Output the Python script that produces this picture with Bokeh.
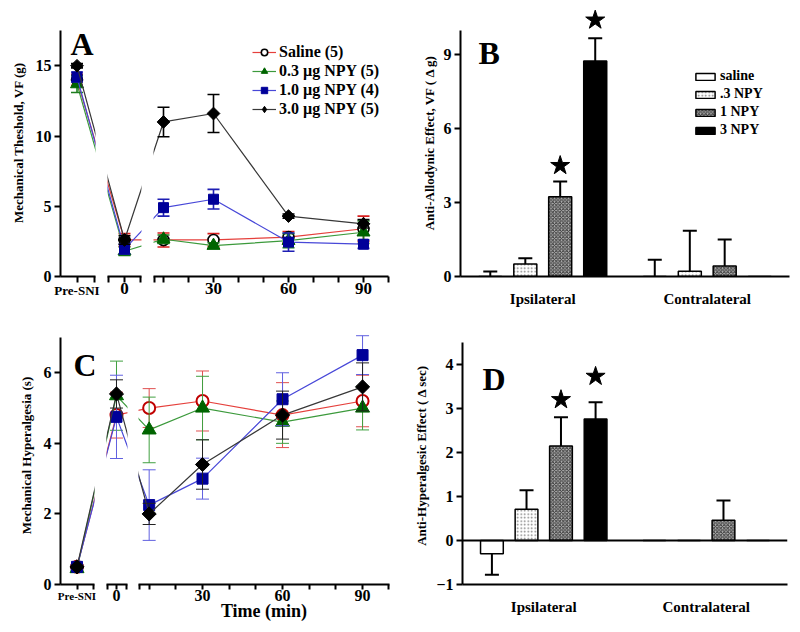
import numpy as np
from bokeh.plotting import figure
from bokeh.layouts import row, column
from bokeh.models import (ColumnDataSource, FixedTicker, Legend, LegendItem,
                          Label, Span, Range1d, FactorRange)
from bokeh.transform import dodge
from bokeh.embed import file_html
from bokeh.resources import INLINE

FONT = "Liberation Serif"

# ---------------- data ----------------
time_labels = ["Pre-SNI", "0", "10", "30", "60", "90"]
treatments = ["Saline (5)", "0.3 \u00b5g NPY (5)", "1.0 \u00b5g NPY (4)", "3.0 \u00b5g NPY (5)"]

# Panel A: mechanical threshold (g)
A_saline = [14.0, 2.6, 2.6, 2.6, 2.8, 3.4]
A_saline_err = [0.4, 0.45, 0.5, 0.45, 0.4, 0.9]
A_npy03 = [13.7, 1.8, 2.65, 2.2, 2.55, 3.15]
A_npy03_err = [0.6, 0.3, 0.3, 0.2, 0.5, 0.8]
A_npy10 = [14.2, 1.95, 4.9, 5.5, 2.45, 2.3]
A_npy10_err = [0.35, 0.35, 0.6, 0.7, 0.65, 0.3]
A_npy30 = [15.0, 2.6, 11.0, 11.6, 4.3, 3.75]
A_npy30_err = [0.15, 0.3, 1.05, 1.35, 0.15, 0.3]

# Panel C: mechanical hyperalgesia (s)
C_saline = [0.5, 4.8, 5.0, 5.2, 4.8, 5.2]
C_saline_err = [0.05, 0.65, 0.55, 0.85, 0.92, 0.73]
C_npy03 = [0.45, 5.35, 4.38, 5.0, 4.6, 5.0]
C_npy03_err = [0.05, 0.98, 0.93, 0.9, 0.6, 0.62]
C_npy10 = [0.5, 4.75, 2.25, 3.0, 5.25, 6.5]
C_npy10_err = [0.05, 1.18, 1.0, 0.58, 0.75, 0.55]
C_npy30 = [0.5, 5.4, 2.0, 3.4, 4.8, 5.6]
C_npy30_err = [0.05, 0.4, 0.3, 0.7, 0.68, 0.68]

# Panels B / D: bar charts
sides = ["Ipsilateral", "Contralateral"]
bar_names = ["saline", ".3 NPY", "1 NPY", "3 NPY"]
B_saline = [0.0, 0.0]
B_saline_err = [0.2, 0.68]
B_npy03 = [0.51, 0.21]
B_npy03_err = [0.23, 1.65]
B_npy1 = [3.24, 0.43]
B_npy1_err = [0.61, 1.07]
B_npy3 = [8.74, 0.0]
B_npy3_err = [0.93, 0.0]
B_star_bar = [2, 3]          # index of starred treatment (Ipsilateral)
B_star_y = [4.5, 10.4]

D_saline = [-0.3, 0.0]
D_saline_err = [0.48, 0.0]
D_npy03 = [0.71, 0.0]
D_npy03_err = [0.43, 0.0]
D_npy1 = [2.15, 0.46]
D_npy1_err = [0.65, 0.45]
D_npy3 = [2.76, 0.0]
D_npy3_err = [0.38, 0.0]
D_star_bar = [2, 3]
D_star_y = [3.2, 3.73]

# ---------------- layout / style constants ----------------
# axis positions of the time points on the broken axes
A_POS = [-24.6, -5.6, 10, 30, 60, 90]
C_POS = [-17.06, -2.25, 10, 30, 60, 90]

LINE_COLORS = ["#e5403c", "#3c9a3c", "#4848d8", "#383838"]
ERR_A = ["#d81e1e", "#1e7d1e", "#1e1eb4", "#000000"]
ERR_C = ["#e05050", "#40a040", "#6060e0", "#222222"]


def base_fig(xr, yr, fw, fh, bl, br, bt, bb, yaxis):
    p = figure(frame_width=fw, frame_height=fh, x_range=xr, y_range=yr,
               min_border_left=bl, min_border_right=br, min_border_top=bt,
               min_border_bottom=bb, toolbar_location=None, output_backend="svg",
               y_axis_location="left" if yaxis else None)
    p.outline_line_color = None
    p.grid.visible = False
    p.background_fill_color = "white"
    p.border_fill_color = "white"
    return p


def style_axis(ax, label_size):
    ax.axis_line_width = 2
    ax.axis_line_color = "black"
    ax.major_tick_line_width = 2
    ax.major_tick_line_color = "black"
    ax.minor_tick_line_width = 2
    ax.minor_tick_line_color = "black"
    ax.major_tick_in = 0
    ax.major_tick_out = 6
    ax.minor_tick_in = 0
    ax.minor_tick_out = 6
    ax.major_label_text_font = FONT
    ax.major_label_text_font_style = "bold"
    ax.major_label_text_font_size = label_size
    ax.major_label_text_color = "black"
    ax.axis_label_text_font = FONT
    ax.axis_label_text_font_style = "bold"
    ax.axis_label_text_color = "black"


def letter(p, x, y, txt):
    p.add_layout(Label(x=x, y=y, text=txt, text_font=FONT, text_font_style="bold",
                       text_font_size="32px", text_color="black",
                       text_baseline="alphabetic"))


def draw_series(p, pos, vals, errs, k, panel):
    lo = [v - e for v, e in zip(vals, errs)]
    hi = [v + e for v, e in zip(vals, errs)]
    src = ColumnDataSource(dict(x=pos, y=vals, lo=lo, hi=hi))
    errc = ERR_A[k] if panel == "A" else ERR_C[k]
    ew = 1.6 if panel == "A" else 1.0
    cap = 12 if panel == "A" else 13
    lr = p.line("x", "y", source=src, line_color=LINE_COLORS[k], line_width=1.2)
    p.segment("x", "lo", "x", "hi", source=src, line_color=errc, line_width=ew)
    p.scatter("x", "lo", source=src, marker="dash", size=cap, line_color=errc, line_width=ew)
    p.scatter("x", "hi", source=src, marker="dash", size=cap, line_color=errc, line_width=ew)
    big = 0 if panel == "A" else 1
    leg = None
    if k == 0:
        sr = p.scatter("x", "y", source=src, marker="circle", size=11 + big,
                       fill_color="white",
                       line_color="black" if panel == "A" else "#c00000",
                       line_width=1.6 if panel == "A" else 2.0)
    elif k == 1:
        sr = p.scatter("x", "y", source=src, marker="triangle", size=13 + big,
                       fill_color="#006400", line_color="#006400")
    elif k == 2:
        sr = p.scatter("x", "y", source=src, marker="square", size=10 + big,
                       fill_color="#000099", line_color="#000099")
    else:
        sr = p.scatter("x", "y", source=src, marker="square", angle=np.pi / 4,
                       size=9 + big, fill_color="black", line_color="black")
        # legend swatch (legend glyphs ignore the marker angle); off-plot dummy point
        leg = p.scatter(x=[float("nan")], y=[float("nan")], marker="diamond", size=17,
                        fill_color="black", line_color="black")
    return lr, (leg if leg is not None else sr)


def line_panel(pos, series, errs, segs, yr_end, ybounds, yticks, ylabel,
               bt, fh, panel, pre_size, tick_size, xlabel=None):
    figs = []
    handles = []
    for i, (xr, fw, bl, br, major, minor, labels) in enumerate(segs):
        p = base_fig(Range1d(*xr), Range1d(0, yr_end), fw, fh, bl, br, bt, 40, i == 0)
        hs = [draw_series(p, pos, series[k], errs[k], k, panel) for k in range(4)]
        if i == len(segs) - 1:
            handles = hs
        ax = p.xaxis[0]
        style_axis(ax, pre_size if i == 0 else tick_size)
        ax.ticker = FixedTicker(ticks=major, minor_ticks=minor)
        ax.major_label_overrides = {m: l for m, l in zip(major, labels)}
        ax.major_label_standoff = 0
        if panel == "C":
            ax.major_tick_out = 5
            ax.minor_tick_out = 5
        if i == 0:
            ay = p.yaxis[0]
            style_axis(ay, "16px")
            ay.ticker = FixedTicker(ticks=yticks)
            ay.bounds = ybounds
            ay.axis_label = ylabel
            ay.axis_label_text_font_size = "13px"
            ay.axis_label_standoff = 7
            ay.major_label_standoff = 3
        if xlabel and i == len(segs) - 1:
            ax.axis_label = xlabel
            ax.axis_label_text_font_size = "18px"
            ax.axis_label_standoff = -3
        figs.append(p)
    return figs, handles


# ---------------- Panel A ----------------
A_series = [A_saline, A_npy03, A_npy10, A_npy30]
A_errs = [A_saline_err, A_npy03_err, A_npy10_err, A_npy30_err]
A_segs = [
    ((-31.2, -17.2), 35, 60, 12, [A_POS[0]], [-17.8], [time_labels[0]]),
    ((-12.4, 1.2), 34, 0, 12, [A_POS[1]], [-12.2, 0.8], [time_labels[1]]),
    ((6.0, 100.0), 235, 0, 12, [30, 60, 90], [6.2, 10, 20, 40, 50, 70, 80, 99.8],
     ["30", "60", "90"]),
]
A_figs, A_handles = line_panel(A_POS, A_series, A_errs, A_segs, 268 / 14.05, (0, 17.5),
                               [0, 5, 10, 15], "Mechanical Theshold, VF (g)", 8, 268,
                               "A", "13px", "17px")
letter(A_figs[0], -27.2, 16.58, "A")
legA = Legend(items=[LegendItem(label=n, renderers=list(h))
                     for n, h in zip(treatments, A_handles)],
              location=(99, 158), padding=0, margin=0, spacing=1,
              glyph_width=24, glyph_height=16, label_height=16, label_standoff=3,
              border_line_color=None, background_fill_alpha=0,
              label_text_font=FONT, label_text_font_style="bold",
              label_text_font_size="16px", label_text_color="black")
A_figs[2].add_layout(legA)

# ---------------- Panel C ----------------
C_series = [C_saline, C_npy03, C_npy10, C_npy30]
C_errs = [C_saline_err, C_npy03_err, C_npy10_err, C_npy30_err]
C_segs = [
    ((-23.25, -10.5), 34, 60, 12, [C_POS[0]], [-10.87], [time_labels[0]]),
    ((-6.0, 1.88), 21, 0, 11, [C_POS[1]], [-5.8, 1.5], [time_labels[1]]),
    ((6.0, 100.1), 251, 0, 11, [30, 60, 90], [6.2, 10, 20, 40, 50, 70, 80, 99.8],
     ["30", "60", "90"]),
]
C_figs, _ = line_panel(C_POS, C_series, C_errs, C_segs, 258 / 35.29, (0, 7),
                       [0, 2, 4, 6], "Mechanical Hyperalgesia (s)", 10, 258,
                       "C", "11px", "16px", xlabel="Time (min)")
letter(C_figs[0], -18.4, 6.23, "C")

# ---------------- bar panels ----------------
OFFSETS = [-0.319, -0.106, 0.106, 0.319]
BAR_W = 0.14
BAR_STYLES = [
    dict(fill_color="white"),
    dict(fill_color="white", hatch_pattern="dot", hatch_color="#808080", hatch_scale=3.5,
         hatch_weight=1),
    dict(fill_color="#b4b4b4", hatch_pattern="diagonal_cross", hatch_color="#3a3a3a",
         hatch_scale=3.5, hatch_weight=1),
    dict(fill_color="black"),
]


def bar_panel(vals, errs, star_bar, star_y, y0, y_end, ybounds, yticks, ylabel,
              fw, fh, bl, br, bt, ysize, let, lx, ly, legend_loc=None, zero_line=False):
    p = base_fig(FactorRange(*sides), Range1d(y0, y_end), fw, fh, bl, br, bt, 40, True)
    rends = []
    for k in range(4):
        src = ColumnDataSource(dict(side=sides, top=vals[k]))
        r = p.vbar(x=dodge("side", OFFSETS[k], range=p.x_range), top="top", bottom=0,
                   width=BAR_W, source=src, line_color="black", line_width=1.5,
                   **BAR_STYLES[k])
        rends.append(r)
    if zero_line:
        p.add_layout(Span(location=0, dimension="width", line_color="black", line_width=2))
    for k in range(4):
        ss, st, en = [], [], []
        for s, v, e in zip(sides, vals[k], errs[k]):
            if e > 0:
                ss.append(s)
                st.append(v)
                en.append(v + e if v >= 0 else v - e)
        esrc = ColumnDataSource(dict(side=ss, st=st, en=en))
        xx = dodge("side", OFFSETS[k], range=p.x_range)
        p.segment(x0=xx, y0="st", x1=xx, y1="en", source=esrc, line_color="black",
                  line_width=2)
        p.scatter(x=xx, y="en", source=esrc, marker="dash", size=14, line_color="black",
                  line_width=2)
    for b, y in zip(star_bar, star_y):
        ssrc = ColumnDataSource(dict(side=[sides[0]], y=[y]))
        p.scatter(x=dodge("side", OFFSETS[b], range=p.x_range), y="y", source=ssrc,
                  marker="star", size=20, fill_color="black", line_color="black")
    ax = p.xaxis[0]
    style_axis(ax, "15px")
    ax.major_tick_line_color = None
    ax.minor_tick_line_color = None
    ax.major_label_standoff = 8
    ay = p.yaxis[0]
    style_axis(ay, ysize)
    ay.ticker = FixedTicker(ticks=yticks)
    ay.bounds = ybounds
    ay.axis_label = ylabel
    ay.axis_label_text_font_size = "13px"
    ay.axis_label_standoff = 4
    ay.major_label_standoff = 3
    letter(p, lx, ly, let)
    if legend_loc is not None:
        leg = Legend(items=[LegendItem(label=n, renderers=[r]) for n, r in zip(bar_names, rends)],
                     location=legend_loc, padding=0, margin=0, spacing=2,
                     glyph_width=24, glyph_height=9, label_height=14, label_standoff=3,
                     border_line_color=None, background_fill_alpha=0,
                     label_text_font=FONT, label_text_font_style="bold",
                     label_text_font_size="14px", label_text_color="black")
        p.add_layout(leg)
    return p


B = bar_panel([B_saline, B_npy03, B_npy1, B_npy3],
              [B_saline_err, B_npy03_err, B_npy1_err, B_npy3_err],
              B_star_bar, B_star_y, 0, 268 / 24.65, (0, 10), [0, 3, 6, 9],
              "Anti-Allodynic Effect, VF ( \u0394 g)", 329, 268, 60, 3, 8, "16px",
              "B", 0.109, 9.05, legend_loc=(233, 138))

D = bar_panel([D_saline, D_npy03, D_npy1, D_npy3],
              [D_saline_err, D_npy03_err, D_npy1_err, D_npy3_err],
              D_star_bar, D_star_y, -1, -1 + 258 / 44, (-1, 4.5), [-1, 0, 1, 2, 3, 4],
              "Anti-Hyperalgesic Effect ( \u0394 sec)", 325, 258, 62, 5, 10, "16px",
              "D", 0.123, 3.66, zero_line=True)

layout = column(row(*A_figs, B, spacing=0), row(*C_figs, D, spacing=0), spacing=0)
open("out.html", "w").write(file_html(layout, INLINE))
